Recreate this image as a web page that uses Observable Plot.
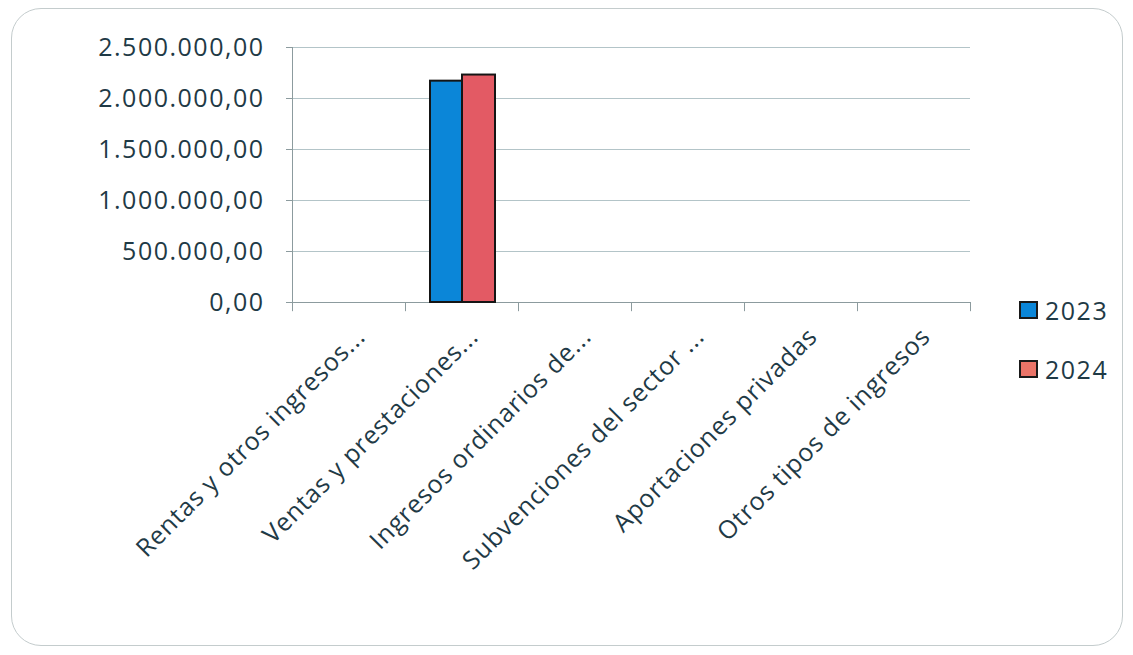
<!DOCTYPE html>
<html>
<head>
<meta charset="utf-8">
<script src="https://cdn.jsdelivr.net/npm/d3@7"></script>
<script src="https://cdn.jsdelivr.net/npm/@observablehq/plot@0.6"></script>
<style>
  html, body { margin: 0; padding: 0; background: #ffffff; }
  #wrap { position: relative; width: 1133px; height: 655px; overflow: hidden; font-family: "Open Sans", Lato, sans-serif; }
  #frame { position: absolute; left: 11px; top: 8px; width: 1112px; height: 638px; border: 1.5px solid #c4cccd; border-radius: 30px; box-sizing: border-box; }
  #chart { position: absolute; left: 0; top: 0; }
  #chart .yax text { letter-spacing: 1.5px; }
  #chart .xax text { letter-spacing: 0.8px; }
  .legend { position: absolute; left: 1019px; display: flex; align-items: center; font-size: 25px; line-height: 30px; color: #1f3a46; letter-spacing: 1.5px; }
  .legend .sw { width: 19px; height: 18px; border: 2px solid #1a1a1a; box-sizing: border-box; margin-right: 7px; }
</style>
</head>
<body>
<div id="wrap">
  <div id="frame"></div>
  <div id="chart"></div>
  <div class="legend" style="top:295px"><span class="sw" style="background:#0b86d8"></span>2023</div>
  <div class="legend" style="top:354px"><span class="sw" style="background:#ea7468"></span>2024</div>
</div>
<script>
const categories = [
  "Rentas y otros ingresos...",
  "Ventas y prestaciones...",
  "Ingresos ordinarios de...",
  "Subvenciones del sector ...",
  "Aportaciones privadas",
  "Otros tipos de ingresos"
];
const years = ["2023", "2024"];
const values2023 = [0, 2170000, 0, 0, 0, 0];
const values2024 = [0, 2230000, 0, 0, 0, 0];
const yTicks = [0, 500000, 1000000, 1500000, 2000000, 2500000];
const colors = ["#0b86d8", "#e35a64"];

const locale = d3.formatLocale({decimal: ",", thousands: ".", grouping: [3], currency: ["", "€"]});
const fmt = locale.format(",.2f");
const textColor = "#1f3a46";
const axisColor = "#8c9b9e";

const chart = Plot.plot({
  width: 1133,
  height: 655,
  marginLeft: 292,
  marginRight: 163,
  marginTop: 47,
  marginBottom: 353,
  style: {fontFamily: "'Open Sans', Lato, sans-serif", color: textColor, background: "transparent"},
  x: {domain: categories, padding: 0, axis: null},
  y: {domain: [0, 2500000], axis: null},
  marks: [
    Plot.gridY(yTicks, {stroke: "#b3c4c8", strokeOpacity: 1, strokeWidth: 1}),
    Plot.axisY(yTicks, {tickFormat: fmt, tickSize: 6, tickPadding: 22, fontSize: 25, stroke: axisColor, fill: textColor, className: "yax"}),
    Plot.ruleX([categories[0]], {dx: -56.5, y1: 0, y2: 2500000, stroke: axisColor}),
    Plot.ruleY([0], {stroke: axisColor, strokeWidth: 1.2}),
    Plot.ruleX(categories, {x: d => d, dx: -56.5, y1: 0, y2: -90000, stroke: axisColor}),
    Plot.ruleX([categories[categories.length - 1]], {dx: 56.5, y1: 0, y2: -90000, stroke: axisColor}),
    Plot.axisX({tickSize: 0, tickRotate: -45, tickPadding: 30, fontSize: 25, fill: textColor, dx: 12, className: "xax"}),
    Plot.barY(categories, {x: d => d, y: (d, i) => values2023[i], filter: (d, i) => values2023[i] > 0,
      fill: colors[0], stroke: "#151515", strokeWidth: 2, insetLeft: 25, insetRight: 56}),
    Plot.barY(categories, {x: d => d, y: (d, i) => values2024[i], filter: (d, i) => values2024[i] > 0,
      fill: colors[1], stroke: "#151515", strokeWidth: 2, insetLeft: 57, insetRight: 23})
  ]
});
document.getElementById("chart").appendChild(chart);
</script>
</body>
</html>
